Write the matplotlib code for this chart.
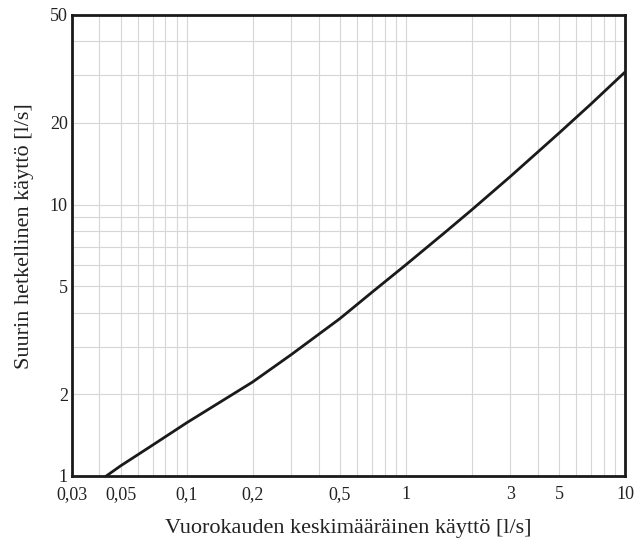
import matplotlib.pyplot as plt
from matplotlib.ticker import FixedLocator, NullFormatter

# Curve (log-log)
avg_use = [0.043, 0.05, 0.07, 0.1, 0.2, 0.3, 0.5, 0.7, 1, 1.5, 2, 3, 5, 7, 10]
peak_use = [1.0, 1.09, 1.3, 1.57, 2.22, 2.8, 3.8, 4.75, 6.0, 7.87, 9.57, 12.7, 18.35, 23.5, 30.8]

x_ticks = [0.03, 0.05, 0.1, 0.2, 0.5, 1, 3, 5, 10]
x_labels = ['0,03', '0,05', '0,1', '0,2', '0,5', '1', '3', '5', '10']
y_ticks = [1, 2, 5, 10, 20, 50]
y_labels = ['1', '2', '5', '10', '20', '50']

plt.rcParams['font.family'] = ['Liberation Serif', 'DejaVu Serif']

fig = plt.figure(figsize=(6.39, 5.42), dpi=100)
ax = fig.add_axes([0.1127, 0.1218, 0.8654, 0.8506])

ax.set_xscale('log')
ax.set_yscale('log')
ax.set_xlim(0.03, 10)
ax.set_ylim(1, 50)

# log-paper style grid
ax.grid(True, which='both', color='#d6d6d6', linewidth=0.8)
ax.set_axisbelow(True)

ax.plot(avg_use, peak_use, color='#1a1a1a', linewidth=2)

ax.xaxis.set_major_locator(FixedLocator(x_ticks))
ax.set_xticklabels(x_labels)
ax.xaxis.set_minor_formatter(NullFormatter())
ax.yaxis.set_major_locator(FixedLocator(y_ticks))
ax.set_yticklabels(y_labels)
ax.yaxis.set_minor_formatter(NullFormatter())
ax.tick_params(which='both', length=0, labelsize=13, colors='#222222')
ax.tick_params(axis='x', pad=7)
ax.tick_params(axis='y', pad=3)

for s in ax.spines.values():
    s.set_linewidth(2)
    s.set_color('#1a1a1a')

ax.set_xlabel('Vuorokauden keskimääräinen käyttö [l/s]', fontsize=16, color='#222222', labelpad=12)
ax.set_ylabel('Suurin hetkellinen käyttö [l/s]', fontsize=16, color='#222222')
ax.yaxis.set_label_coords(-0.068, 0.52)

fig.savefig('out.png', dpi=100)
